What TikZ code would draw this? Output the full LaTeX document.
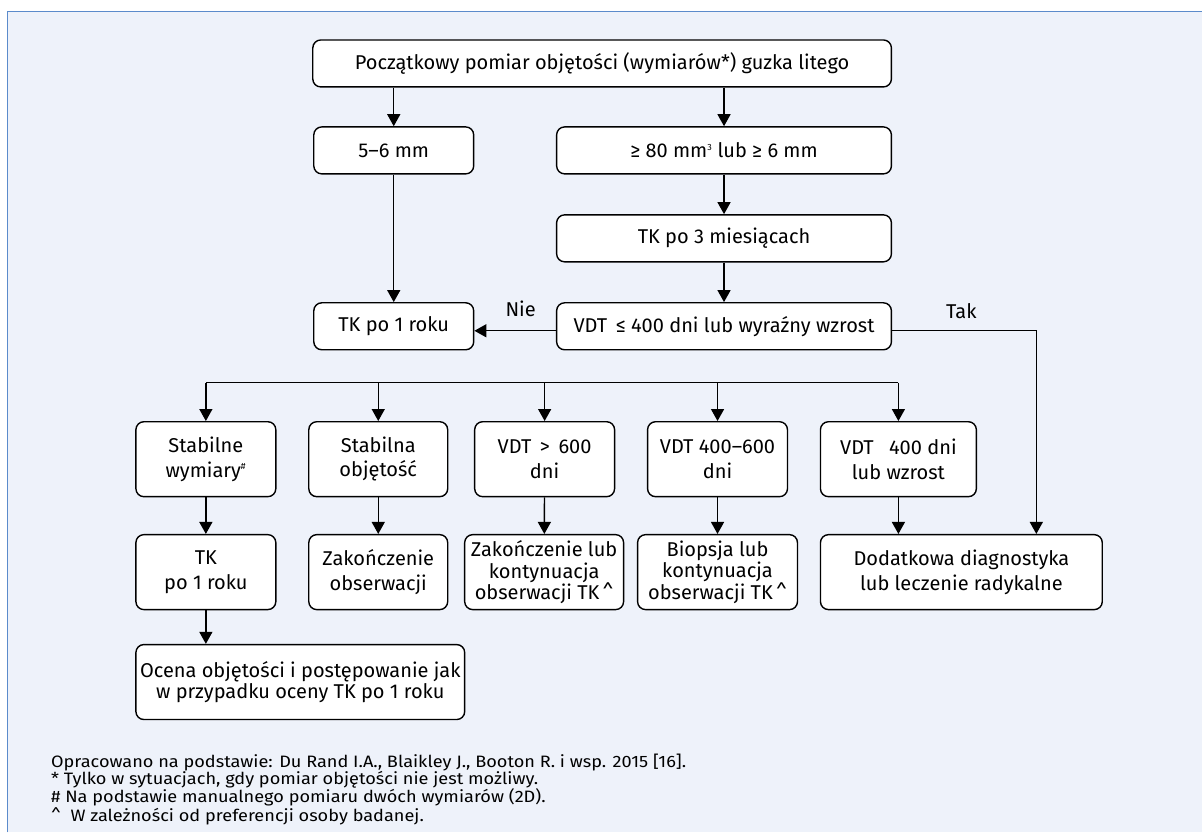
\documentclass[tikz,border=0pt]{standalone}
\usepackage{fontspec}
\setmainfont{Fira Sans}
\newfontfamily\notefont[FakeStretch=1.1]{Fira Sans}
\usetikzlibrary{arrows.meta}
\definecolor{bgblue}{HTML}{EEF2FA}
\definecolor{frameblue}{HTML}{5B8BCB}
\begin{document}
\begin{tikzpicture}[x=1pt,y=-1pt,
  font=\fontsize{20}{24.5}\selectfont,
  box/.style={draw, line width=1.4pt, rounded corners=8pt, fill=white, align=center, inner sep=1pt},
  tight/.style={font=\fontsize{20}{21.5}\selectfont},
  arr/.style={line width=1.4pt, -{Triangle[length=12pt,width=13pt]}},
  lnk/.style={line width=1.4pt},
  lbl/.style={inner sep=0pt}]
\fill[white] (0,0) rectangle (1203,833);
\fill[bgblue] (7,11) rectangle (1203,833);
\draw[frameblue, line width=1.6pt] (7.5,833) -- (7.5,11.5) -- (1203,11.5);
\useasboundingbox (0,0) rectangle (1203,833);

\node[box, minimum width=579pt, minimum height=47pt] (top) at (602.5,63.5) {Początkowy pomiar objętości (wymiarów*) guzka litego};
\node[box, minimum width=160pt, minimum height=47pt] (s56) at (394,150.5) {5–6 mm};
\node[box, minimum width=335pt, minimum height=47pt] (g80) at (724.5,150.5) {≥ 80 mm\textsuperscript{\fontsize{9}{9}\selectfont 3} lub ≥ 6 mm};
\node[box, minimum width=335pt, minimum height=47pt] (tk3) at (724.5,238.5) {TK po 3 miesiącach};
\node[box, minimum width=160pt, minimum height=47pt] (tk1) at (394,326.5) {TK po 1 roku};
\node[box, minimum width=335pt, minimum height=47pt] (vdt) at (724.5,326.5) {VDT\, ≤ 400 dni lub wyraźny wzrost};

\node[box, minimum width=140pt, minimum height=75pt] (a1) at (206,459.5) {Stabilne\\wymiary\textsuperscript{\fontsize{9}{9}\selectfont\#}};
\node[box, minimum width=139pt, minimum height=75pt] (a2) at (378.5,459.5) {Stabilna\\objętość};
\node[box, minimum width=140pt, minimum height=75pt] (a3) at (545,459.5) {VDT \,>\, 600\\dni};
\node[box, minimum width=140pt, minimum height=75pt] (a4) at (718,459.5) {VDT 400–600\\dni};
\node[box, minimum width=156pt, minimum height=75pt] (a5) at (899,459.5) {VDT \enspace 400 dni\\lub wzrost};

\node[box, minimum width=140pt, minimum height=75pt] (b1) at (206,572.5) {TK\\po 1 roku};
\node[box, minimum width=139pt, minimum height=75pt] (b2) at (378.5,572.5) {Zakończenie\\obserwacji};
\node[box, tight, minimum width=159pt, minimum height=75pt] (b3) at (544.5,572.5) {Zakończenie lub\\kontynuacja\\obserwacji TK\,\textasciicircum};
\node[box, tight, minimum width=160pt, minimum height=75pt] (b4) at (718,572.5) {Biopsja lub\\kontynuacja\\obserwacji TK\,\textasciicircum};
\node[box, minimum width=282pt, minimum height=75pt] (b5) at (962,572.5) {Dodatkowa diagnostyka\\lub leczenie radykalne};

\node[box, tight, minimum width=329pt, minimum height=75pt] (c1) at (300.5,682.5) {Ocena objętości i postępowanie jak\\w przypadku oceny TK po 1 roku};

% connectors
\draw[arr] (top.south -| s56) -- (s56);
\draw[arr] (top.south -| g80) -- (g80);
\draw[arr] (g80) -- (tk3);
\draw[arr] (tk3) -- (vdt);
\draw[arr] (s56) -- (tk1);
\coordinate (hy) at (0,331);
\draw[arr] (vdt.west |- hy) -- (tk1.east |- hy);
\node[lbl] (nie) at (521,309) {Nie};
\coordinate (tk) at (1037,331);
\draw[arr] (vdt.east |- hy) -- (tk) -- (tk |- b5.north);
\node[lbl] (tak) at (962,311) {Tak};

\coordinate (brL) at (206,383);
\coordinate (brR) at (899,383);
\draw[lnk] (brL) -- (brR);
\draw[arr] (brL) -- (a1);
\draw[arr] (brL -| a2) -- (a2);
\draw[arr] (brL -| a3) -- (a3);
\draw[arr] (brL -| a4) -- (a4);
\draw[arr] (brR) -- (a5);

\draw[arr] (a1) -- (b1);
\draw[arr] (a2) -- (b2);
\draw[arr] (a3) -- (b3);
\draw[arr] (a4) -- (b4);
\draw[arr] (a5) -- (b5.north -| a5);
\draw[arr] (b1) -- (c1.north -| b1);

\node[anchor=north west, align=left, inner sep=0pt, font=\notefont\fontsize{16.5}{17}\selectfont] (notes) at (51,754)
{Opracowano na podstawie: Du Rand I.A., Blaikley J., Booton R. i wsp. 2015 [16].\\
* Tylko w sytuacjach, gdy pomiar objętości nie jest możliwy.\\
\# Na podstawie manualnego pomiaru dwóch wymiarów (2D).\\
\textasciicircum\ \ W zależności od preferencji osoby badanej.};
\end{tikzpicture}
\end{document}
